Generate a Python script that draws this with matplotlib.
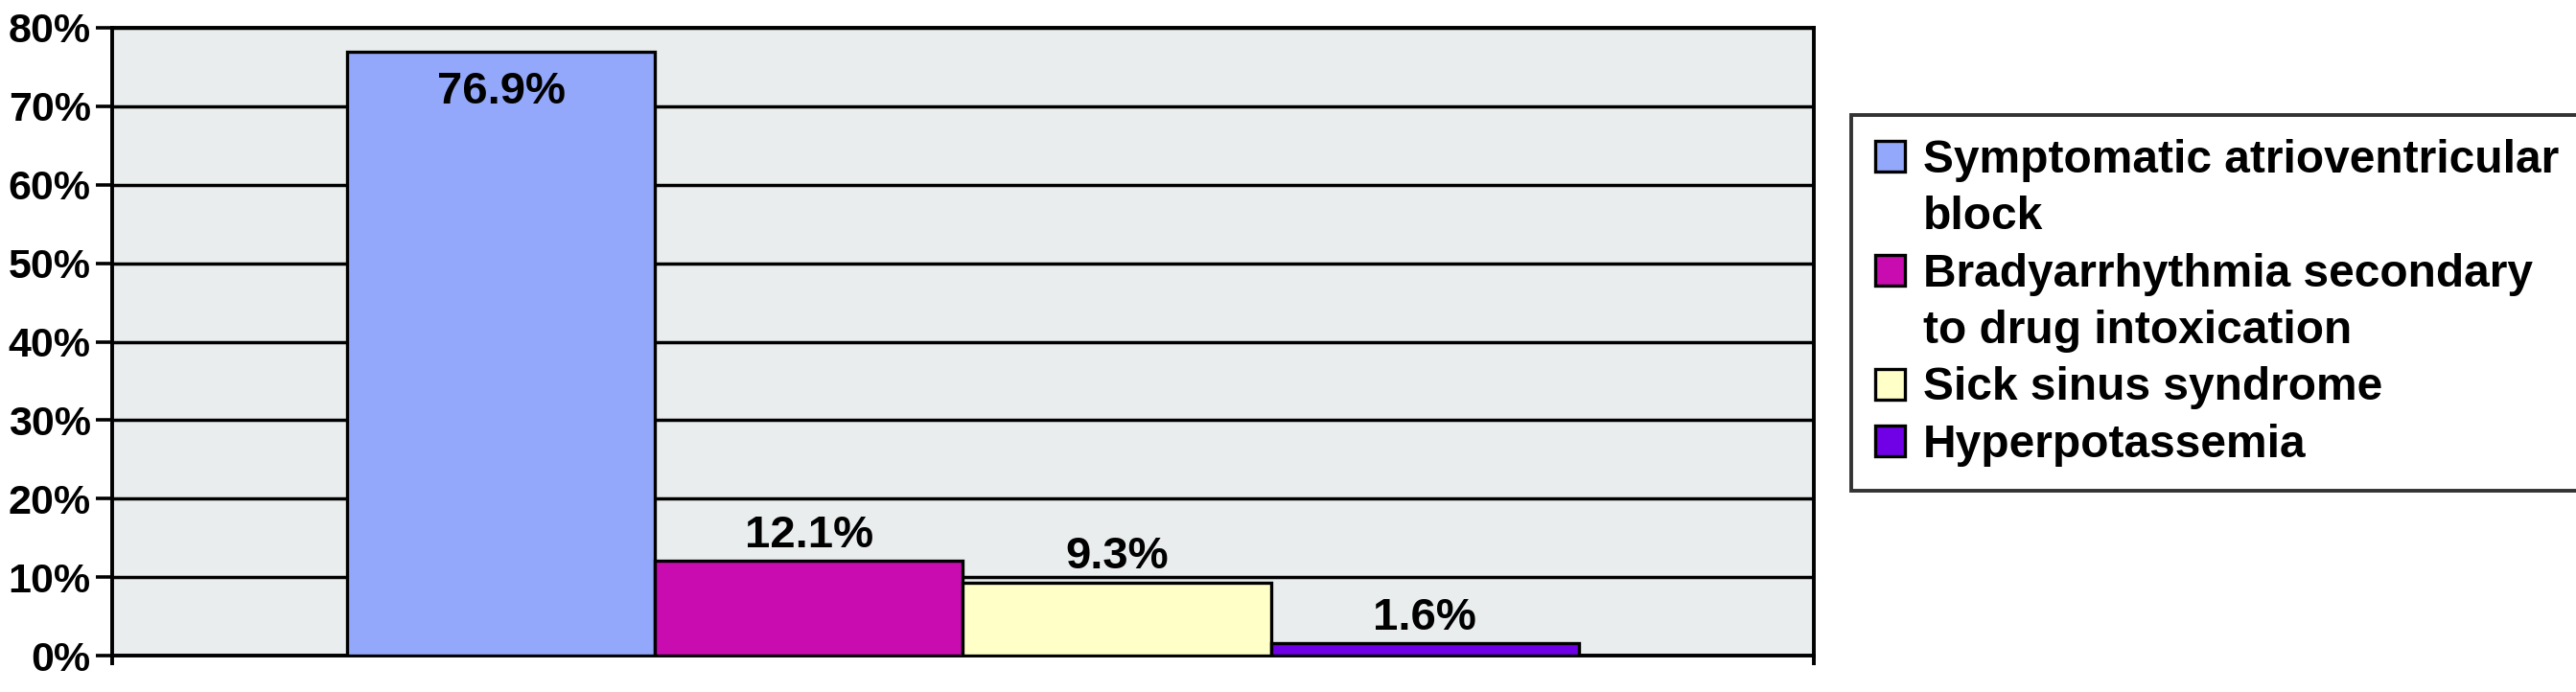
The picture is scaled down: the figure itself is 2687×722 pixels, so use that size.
import matplotlib
matplotlib.use("Agg")
import matplotlib.pyplot as plt
from matplotlib.patches import Patch
import numpy as np

categories = ["Symptomatic atrioventricular\nblock",
              "Bradyarrhythmia secondary\nto drug intoxication",
              "Sick sinus syndrome",
              "Hyperpotassemia"]
values = [76.9, 12.1, 9.3, 1.6]
value_labels = ["76.9%", "12.1%", "9.3%", "1.6%"]
colors = ["#93A8FA", "#C80CB0", "#FFFFC8", "#7000E6"]
yticks = [0, 10, 20, 30, 40, 50, 60, 70, 80]
ytick_labels = ["0%", "10%", "20%", "30%", "40%", "50%", "60%", "70%", "80%"]

plt.rcParams['font.family'] = ['Liberation Sans', 'DejaVu Sans']
plt.rcParams['font.weight'] = 'bold'

fig = plt.figure(figsize=(26.87, 7.22), dpi=100)
ax = fig.add_axes([117/2687, 1 - 684/722, (1892-117)/2687, (684-29)/722])
ax.set_facecolor("#E9EDED")

w = 0.181
n = len(values)
xs = (np.arange(n) - (n - 1) / 2) * w
bars = ax.bar(xs, values, width=w, color=colors, edgecolor="black",
              linewidth=2.4, zorder=3)

for i, (b, lab, v) in enumerate(zip(bars, value_labels, values)):
    cx = b.get_x() + b.get_width() / 2
    if v > 40:
        ax.annotate(lab, (cx, v), xytext=(0, -30), textcoords="offset points",
                    ha="center", va="center", fontsize=34, fontweight="bold", zorder=4)
    else:
        ax.annotate(lab, (cx, v), xytext=(0, 19), textcoords="offset points",
                    ha="center", va="center", fontsize=34, fontweight="bold", zorder=4)

ax.set_ylim(0, 80)
ax.set_xlim(-0.5, 0.5)
ax.set_yticks(yticks)
ax.set_yticklabels(ytick_labels, fontsize=31, fontweight="bold")
ax.set_xticks([-0.5, 0.5])
ax.set_xticklabels([])
ax.tick_params(axis="y", direction="out", length=12, width=2.6, pad=4)
ax.tick_params(axis="x", direction="out", length=7, width=2.8)
ax.yaxis.grid(True, color="black", linewidth=2.5, zorder=1)
ax.set_axisbelow(True)
for s in ax.spines.values():
    s.set_linewidth(2.8)
    s.set_color("black")

# legend with first-line aligned handles
handles = []
labels = []
for cat, c in zip(categories, colors):
    lines = cat.split("\n")
    handles.append(Patch(facecolor=c, edgecolor="black", linewidth=2.4))
    labels.append(lines[0])
    for extra in lines[1:]:
        handles.append(Patch(facecolor="none", edgecolor="none"))
        labels.append(extra)

leg = fig.legend(handles, labels, loc="upper left",
                 bbox_to_anchor=(1931/2687, 1 - 120/722),
                 bbox_transform=fig.transFigure,
                 prop={"family": "Liberation Sans", "weight": "bold", "size": 34.5},
                 frameon=True, fancybox=False, edgecolor="black",
                 handlelength=0.65, handleheight=0.65, handletextpad=0.4,
                 labelspacing=0.3, borderpad=0.52, borderaxespad=0)
leg.get_frame().set_linewidth(2.8)
leg.get_frame().set_facecolor("white")

fig.savefig("out.png", dpi=100)
